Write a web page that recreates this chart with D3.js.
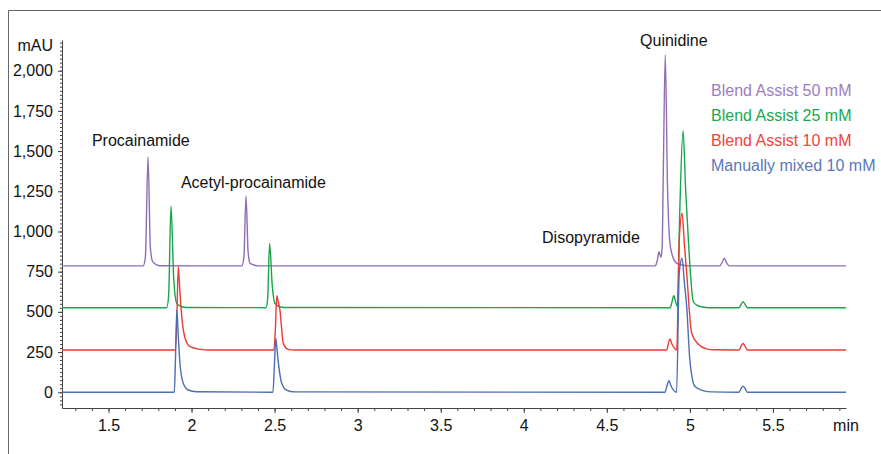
<!DOCTYPE html>
<html>
<head>
<meta charset="utf-8">
<script src="https://cdn.jsdelivr.net/npm/d3@7"></script>
<style>
  body { margin: 0; background: #fff; }
  svg text { font-family: "Liberation Sans", Arial, sans-serif; }
</style>
</head>
<body>
<div id="chart"></div>
<script>
// series names (legend order, top to bottom)
var seriesNames = ["Blend Assist 50 mM", "Blend Assist 25 mM", "Blend Assist 10 mM", "Manually mixed 10 mM"];

// traces: [minutes, mAU] (offset baselines included)
var blend50 = [[1.22,786],[1.709,786],[1.722,840],[1.738,1463],[1.752,900],[1.766,812],[1.79,792],[1.81,787],
  [2.302,786],[2.315,840],[2.328,1221],[2.34,880],[2.352,802],[2.38,790],[2.402,786],
  [4.79,786],[4.803,815],[4.814,874],[4.826,839],[4.833,900],[4.840,1362],[4.852,2098],[4.865,1300],[4.878,950],
  [4.891,864],[4.921,802],[4.96,790],[5.0,786],
  [5.181,786],[5.195,810],[5.207,833],[5.22,808],[5.237,786],[5.94,786]];

var blend25 = [[1.22,526],[1.850,526],[1.862,600],[1.876,1158],[1.893,700],[1.911,553],[1.94,532],[1.97,527],
  [2.448,526],[2.458,580],[2.470,926],[2.486,660],[2.502,553],[2.53,532],[2.552,527],
  [4.881,526],[4.892,560],[4.903,600],[4.915,560],[4.925,532],[4.940,1154],[4.959,1627],[4.975,1250],
  [4.991,947],[5.021,563],[5.045,540],[5.071,532],[5.12,526],
  [5.296,526],[5.308,545],[5.32,563],[5.333,545],[5.346,526],[5.94,526]];

var blend10 = [[1.22,263],[1.900,263],[1.910,400],[1.920,781],[1.930,620],[1.941,470],[1.961,336],[1.991,283],[2.051,267],[2.10,263],
  [2.496,263],[2.505,400],[2.513,601],[2.522,560],[2.532,512],[2.542,400],[2.552,304],[2.582,267],[2.62,263],
  [4.86,263],[4.870,300],[4.880,331],[4.892,300],[4.921,263],[4.936,947],[4.953,1113],[4.967,920],
  [4.981,740],[5.011,367],[5.05,300],[5.10,270],[5.15,264],
  [5.296,263],[5.308,285],[5.32,304],[5.333,285],[5.346,263],[5.94,263]];

var manual10 = [[1.22,0],[1.896,0],[1.903,200],[1.911,512],[1.920,350],[1.930,182],[1.95,56],[1.98,14],[2.03,3],
  [2.49,0],[2.498,150],[2.507,336],[2.515,260],[2.523,180],[2.543,56],[2.57,14],[2.62,2],
  [4.85,0],[4.862,40],[4.874,72],[4.886,40],[4.92,0],[4.936,740],[4.953,833],[4.967,680],
  [4.981,532],[5.0,200],[5.031,35],[5.08,10],[5.13,2],
  [5.296,0],[5.308,22],[5.32,38],[5.333,22],[5.346,0],[5.94,0]];

var traces = [blend50, blend25, blend10, manual10];

// compound labels and the point (minutes, mAU) where each label starts
var peakNames = ["Procainamide", "Acetyl-procainamide", "Disopyramide", "Quinidine"];
var peakLabelAt = [[1.40,1532],[1.936,1270],[4.11,928],[4.70,2154]];

// axis ticks
var xTicks = [1.5, 2, 2.5, 3, 3.5, 4, 4.5, 5, 5.5];
var yTicks = [0, 250, 500, 750, 1000, 1250, 1500, 1750, 2000];

var lineColors = ["#8f6db5", "#17a74a", "#ee3a35", "#4b6eb4"];
var legendColors = ["#9b7dc0", "#19a84d", "#f0443c", "#5a78b8"];

var width = 881, height = 454;

var svg = d3.select("#chart")
  .append("svg")
    .attr("width", width)
    .attr("height", height);

// outer frame (top and left edges visible)
svg.append("path")
  .attr("d", "M8.5," + height + "V10.5H" + width)
  .attr("fill", "none")
  .attr("stroke", "#666")
  .attr("stroke-width", 1);

var x = d3.scaleLinear().domain([1.22, 5.94]).range([62, 846]);
var y = d3.scaleLinear().domain([-98, 2191]).range([408, 40]);

// y axis
var yAxis = svg.append("g")
  .attr("transform", "translate(62,0)")
  .call(d3.axisLeft(y).tickValues(yTicks).tickFormat(d3.format(",")).tickSize(4).tickPadding(5).tickSizeOuter(0));
svg.append("g")
  .attr("transform", "translate(62,0)")
  .call(d3.axisLeft(y).tickValues(d3.range(-75, 2190, 25)).tickFormat("").tickSize(2))
  .call(function (g) { g.select(".domain").remove(); });

// x axis
var xAxis = svg.append("g")
  .attr("transform", "translate(0,408)")
  .call(d3.axisBottom(x).tickValues(xTicks).tickFormat(function (d) { return d; }).tickSize(5).tickPadding(7).tickSizeOuter(0));
svg.append("g")
  .attr("transform", "translate(0,408)")
  .call(d3.axisBottom(x).tickValues(d3.range(13, 60, 1).map(function (d) { return d / 10; })).tickFormat("").tickSize(3))
  .call(function (g) { g.select(".domain").remove(); });

svg.selectAll(".tick line, .domain").attr("stroke", "#444");
svg.selectAll(".tick text")
  .attr("fill", "#111")
  .style("font-size", "16px");

xAxis.append("text")
  .attr("x", x(5.94))
  .attr("y", 12)
  .attr("dy", "0.71em")
  .attr("text-anchor", "middle")
  .attr("fill", "#111")
  .style("font-size", "16px")
  .text("min");

yAxis.append("text")
  .attr("x", -9)
  .attr("y", 51)
  .attr("text-anchor", "end")
  .attr("fill", "#111")
  .style("font-size", "16px")
  .text("mAU");

// traces
var line = d3.line()
  .x(function (d) { return x(d[0]); })
  .y(function (d) { return y(d[1]); })
  .curve(d3.curveMonotoneX);

svg.selectAll(".trace")
  .data(traces)
  .enter()
    .append("path")
      .attr("class", "trace")
      .attr("d", line)
      .attr("fill", "none")
      .attr("stroke", function (d, i) { return lineColors[i]; })
      .attr("stroke-width", 1.4)
      .attr("stroke-linejoin", "round");

// peak labels
svg.selectAll(".peak")
  .data(peakNames)
  .enter()
    .append("text")
      .attr("class", "peak")
      .attr("x", function (d, i) { return x(peakLabelAt[i][0]); })
      .attr("y", function (d, i) { return y(peakLabelAt[i][1]); })
      .attr("fill", "#111")
      .style("font-size", "16px")
      .text(function (d) { return d; });

// legend
svg.selectAll(".legend")
  .data(seriesNames)
  .enter()
    .append("text")
      .attr("class", "legend")
      .attr("x", 711)
      .attr("y", function (d, i) { return 96 + i * 25; })
      .attr("fill", function (d, i) { return legendColors[i]; })
      .style("font-size", "16px")
      .text(function (d) { return d; });
</script>
</body>
</html>
